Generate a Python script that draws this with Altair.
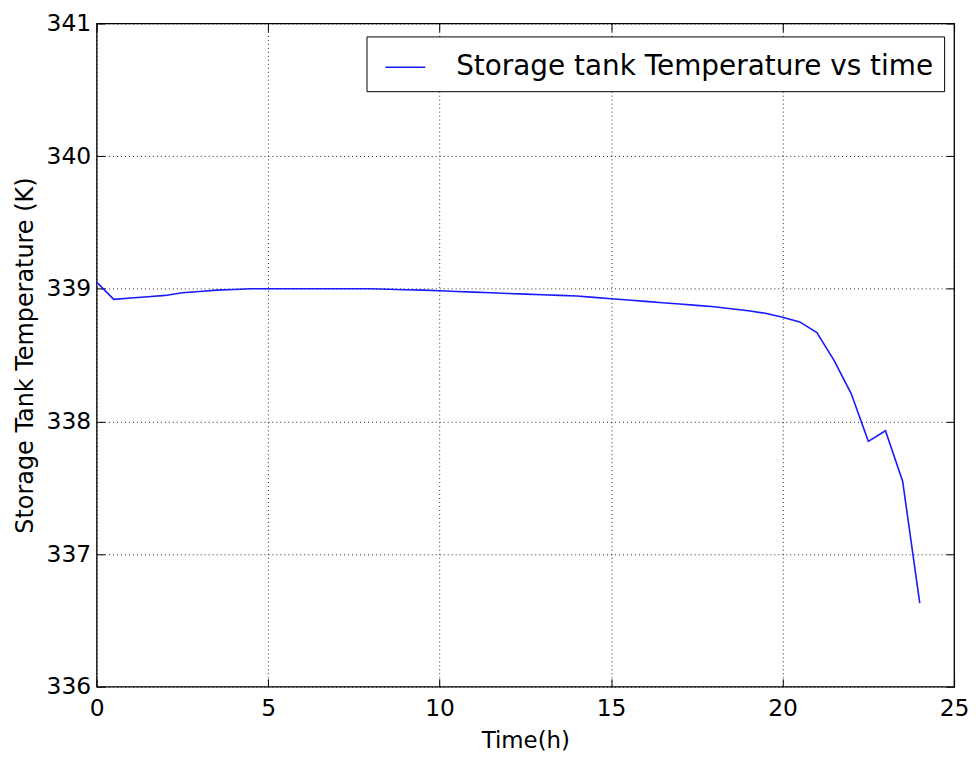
import altair as alt
import pandas as pd

time_h = [0, 0.5, 1, 1.5, 2, 2.5, 3, 3.5, 4, 4.5, 5, 5.5, 6, 6.5, 7, 7.5, 8,
          8.5, 9, 9.5, 10, 10.5, 11, 11.5, 12, 12.5, 13, 13.5, 14, 14.5, 15,
          15.5, 16, 16.5, 17, 17.5, 18, 18.5, 19, 19.5, 20, 20.5, 21, 21.5,
          22, 22.5, 23, 23.5, 24]
temp_k = [339.05, 338.92, 338.93, 338.94, 338.95, 338.97, 338.98, 338.99,
          338.995, 339.0, 339.0, 339.0, 339.0, 339.0, 339.0, 339.0, 339.0,
          338.997, 338.993, 338.99, 338.985, 338.98, 338.975, 338.97, 338.965,
          338.96, 338.955, 338.95, 338.945, 338.935, 338.925, 338.915, 338.905,
          338.895, 338.885, 338.875, 338.865, 338.85, 338.835, 338.815,
          338.785, 338.75, 338.67, 338.46, 338.21, 337.85, 337.93, 337.55,
          336.63]
series_name = "Storage tank Temperature vs time"
x_ticks = [0, 5, 10, 15, 20, 25]
y_ticks = [336, 337, 338, 339, 340, 341]

df = pd.DataFrame({"t": time_h, "T": temp_k, "s": [series_name] * len(time_h)})

FONT = "DejaVu Sans"
xscale = alt.Scale(domain=[0, 25], nice=False)
yscale = alt.Scale(domain=[336, 341], nice=False, zero=False)

main = alt.Chart(df).mark_line(strokeWidth=1.6).encode(
    x=alt.X("t:Q", title="Time(h)", scale=xscale,
            axis=alt.Axis(values=x_ticks, format="d", orient="bottom",
                          offset=-8, tickSize=8, labelPadding=10,
                          titlePadding=10, titleFontSize=23)),
    y=alt.Y("T:Q", title="Storage Tank Temperature (K)", scale=yscale,
            axis=alt.Axis(values=y_ticks, format="d", orient="left",
                          offset=-8, tickSize=8, labelPadding=6,
                          titlePadding=9, titleFontSize=24)),
    color=alt.Color("s:N", scale=alt.Scale(range=["#1a1aff"]),
                    legend=alt.Legend(title=None, orient="none",
                                      legendX=271, legendY=13,
                                      symbolType="stroke", symbolSize=1600,
                                      symbolStrokeWidth=1.6, symbolOffset=8,
                                      labelFontSize=28, labelFont=FONT,
                                      labelColor="black",
                                      fillColor="white", strokeColor="black",
                                      padding=10, labelOffset=30,
                                      labelLimit=900)),
)

frame = alt.Chart(df).mark_line(opacity=0).encode(
    x=alt.X("t:Q", scale=xscale,
            axis=alt.Axis(values=x_ticks, orient="top", labels=False,
                          title=None, grid=False, offset=-8, tickSize=8)),
    y=alt.Y("T:Q", scale=yscale,
            axis=alt.Axis(values=y_ticks, orient="right", labels=False,
                          title=None, grid=False, offset=-8, tickSize=8)),
)

chart = alt.layer(main, frame).resolve_axis(
    x="independent", y="independent"
).properties(
    width=861, height=666,
    padding={"left": 89, "top": 14, "right": 18, "bottom": 66},
    autosize=alt.AutoSizeParams(type="none"),
).configure_view(
    stroke="black", strokeWidth=1.3
).configure_axis(
    grid=True, gridColor="black", gridDash=[1, 3], gridOpacity=0.85,
    domain=False, ticks=True, tickColor="black", tickWidth=1,
    labelFlush=False,
    labelFont=FONT, labelFontSize=23.5, labelColor="black",
    titleFont=FONT, titleColor="black", titleFontWeight="normal",
)

chart.save("out.html", embed_options={"renderer": "svg", "actions": False})
